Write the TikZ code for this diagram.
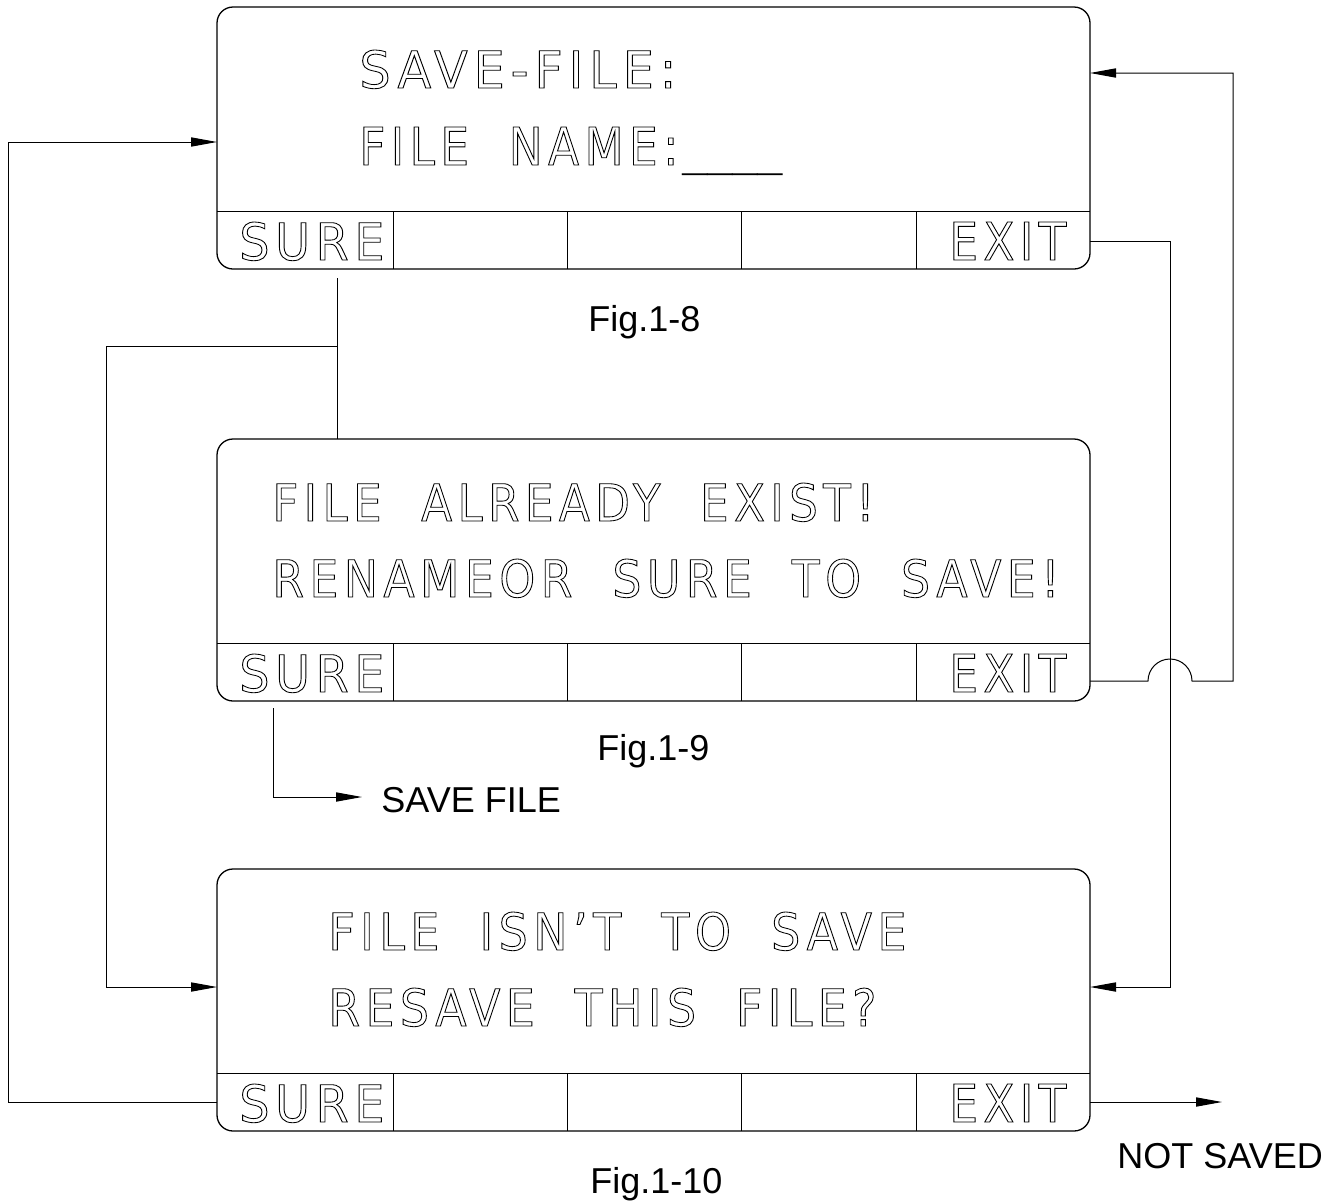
\documentclass[tikz,border=0pt]{standalone}
\usepackage{fontspec}
\usepackage{graphicx}
\usetikzlibrary{arrows.meta}
\setmainfont{Liberation Sans}
\newfontfamily\cadfont[FakeStretch=0.82,LetterSpace=10,WordSpace=2.0]{DejaVu Sans}
\newfontfamily\cadplain{DejaVu Sans}
\newcommand\cadon{\special{pdf:literal direct 1 Tr 0.42 w}}
\newcommand\cadoff{\special{pdf:literal direct 0 Tr}}
\newcommand\cadtxt[2]{\resizebox{#1}{19pt}{\cadfont\fontsize{26pt}{30pt}\selectfont\cadon #2\cadoff}}
\begin{document}
\begin{tikzpicture}[x=0.5pt,y=-0.5pt,
  screen/.style={draw,line width=0.65pt,rounded corners=8pt,minimum width=436.5pt,minimum height=131pt,inner sep=0pt,outer sep=0pt},
  conn/.style={line width=0.5pt},
  arr/.style={conn,-{Triangle[length=13pt,width=4.6pt]}},
  lbl/.style={inner sep=0pt,anchor=base west,font=\fontsize{18pt}{21pt}\selectfont},
  cad/.style={inner sep=0pt,anchor=base west},
  div/.style={line width=0.5pt}]
\fill[white] (0,0) rectangle (1339,1200);
\useasboundingbox (0,0) rectangle (1339,1200);

% screens
\node[screen] (b1) at (653.5,138) {};
\node[screen] (b2) at (653.5,570) {};
\node[screen] (b3) at (653.5,1000) {};

\foreach \y in {211,643,1073}{
  \draw[div] (217,\y) -- (1090,\y);
  \foreach \x in {393,567,741,916}{
    \draw[div] (\x,\y) -- ++(0,58);
  }
}

% screen texts
\node[cad] (t1a) at (359,88) {\cadtxt{158.5pt}{SAVE-FILE:}};
\node[cad] (t1b) at (359,165) {\cadtxt{159.5pt}{FILE NAME:}};
\node[cad] (t1c) at (682,169.5) {\scalebox{0.96}[0.5]{\cadplain\fontsize{26pt}{30pt}\selectfont\_\_\_\_}};
\node[cad] (t2a) at (272,521) {\cadtxt{301pt}{FILE ALREADY EXIST!}};
\node[cad] (t2b) at (272,597) {\cadtxt{393.5pt}{RENAMEOR SURE TO SAVE!}};
\node[cad] (t3a) at (328,950) {\cadtxt{289pt}{FILE ISN’T TO SAVE}};
\node[cad] (t3b) at (328,1026) {\cadtxt{274pt}{RESAVE THIS FILE?}};

\node[cad] (s1) at (239,260) {\cadtxt{72.5pt}{SURE}};
\node[cad] (e1) at (949,260) {\cadtxt{58.5pt}{EXIT}};
\node[cad] (s2) at (239,692) {\cadtxt{72.5pt}{SURE}};
\node[cad] (e2) at (949,692) {\cadtxt{58.5pt}{EXIT}};
\node[cad] (s3) at (239,1122) {\cadtxt{72.5pt}{SURE}};
\node[cad] (e3) at (949,1122) {\cadtxt{58.5pt}{EXIT}};

% captions
\node[lbl] (f8) at (588,331) {Fig.1-8};
\node[lbl] (f9) at (597,760) {Fig.1-9};
\node[lbl] (f10) at (590,1193) {Fig.1-10};
\node[lbl] (sf) at (381,812) {SAVE FILE};
\node[lbl] (ns) at (1117,1168) {NOT SAVED};

% free ends
\coordinate (c1) at (337,278);
\coordinate (c2) at (273,708);
\coordinate (c3) at (1222,1102);
\coordinate (c4) at (362,797);

% connectors
\draw[conn] (c1) -- (b2.north -| 337,0);
\draw[arr] (337,346) -- (106,346) -- (106,987) -- (b3.west |- 0,987);
\draw[arr] (b1.east |- 0,241) -- (1170,241) -- (1170,987) -- (b3.east |- 0,987);
\draw[arr] (b2.east |- 0,681) -- (1148,681) arc (180:360:22) -- (1233,681) -- (1233,73) -- (b1.east |- 0,73);
\draw[arr] (b3.west |- 0,1102) -- (8,1102) -- (8,142) -- (b1.west |- 0,142);
\draw[arr] (b3.east |- 0,1102) -- (c3);
\draw[arr] (c2) -- (273,797) -- (c4);
\end{tikzpicture}
\end{document}
